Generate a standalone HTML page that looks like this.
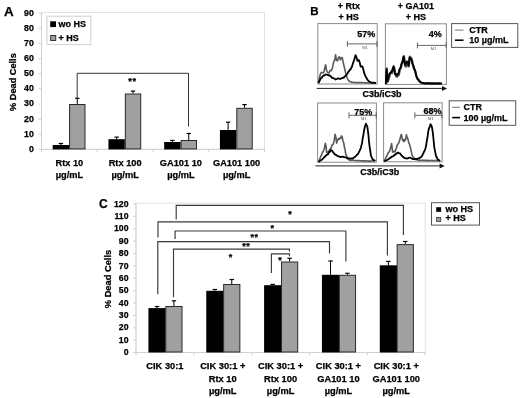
<!DOCTYPE html>
<html><head><meta charset="utf-8"><style>
html,body{margin:0;padding:0;background:#fff;}
body{width:520px;height:398px;overflow:hidden;}
svg{display:block;font-family:"Liberation Sans", sans-serif;will-change:transform;filter:blur(0.35px);}
</style></head><body>
<svg width="520" height="398" viewBox="0 0 520 398">
<rect width="520" height="398" fill="#fff"/>
<text x="4.0" y="16.2" font-size="13.4" text-anchor="start" fill="#000" stroke="#000" stroke-width="0.25" font-weight="bold" >A</text>
<rect x="41.5" y="12.5" width="223.0" height="136.9" fill="none" stroke="#e2e2e2" stroke-width="1"/>
<line x1="41.5" y1="12.5" x2="41.5" y2="149.4" stroke="#d2d2d2" stroke-width="1"/>
<line x1="41.5" y1="149.4" x2="264.5" y2="149.4" stroke="#d2d2d2" stroke-width="1"/>
<line x1="38.5" y1="149.40" x2="41.5" y2="149.40" stroke="#d2d2d2" stroke-width="1"/>
<text x="33.8" y="151.85" font-size="8.8" text-anchor="end" fill="#000" stroke="#000" stroke-width="0.25" font-weight="bold" >0</text>
<line x1="38.5" y1="134.27" x2="41.5" y2="134.27" stroke="#d2d2d2" stroke-width="1"/>
<text x="33.8" y="136.72" font-size="8.8" text-anchor="end" fill="#000" stroke="#000" stroke-width="0.25" font-weight="bold" >10</text>
<line x1="38.5" y1="119.14" x2="41.5" y2="119.14" stroke="#d2d2d2" stroke-width="1"/>
<text x="33.8" y="121.59" font-size="8.8" text-anchor="end" fill="#000" stroke="#000" stroke-width="0.25" font-weight="bold" >20</text>
<line x1="38.5" y1="104.01" x2="41.5" y2="104.01" stroke="#d2d2d2" stroke-width="1"/>
<text x="33.8" y="106.46" font-size="8.8" text-anchor="end" fill="#000" stroke="#000" stroke-width="0.25" font-weight="bold" >30</text>
<line x1="38.5" y1="88.88" x2="41.5" y2="88.88" stroke="#d2d2d2" stroke-width="1"/>
<text x="33.8" y="91.33" font-size="8.8" text-anchor="end" fill="#000" stroke="#000" stroke-width="0.25" font-weight="bold" >40</text>
<line x1="38.5" y1="73.75" x2="41.5" y2="73.75" stroke="#d2d2d2" stroke-width="1"/>
<text x="33.8" y="76.20" font-size="8.8" text-anchor="end" fill="#000" stroke="#000" stroke-width="0.25" font-weight="bold" >50</text>
<line x1="38.5" y1="58.62" x2="41.5" y2="58.62" stroke="#d2d2d2" stroke-width="1"/>
<text x="33.8" y="61.07" font-size="8.8" text-anchor="end" fill="#000" stroke="#000" stroke-width="0.25" font-weight="bold" >60</text>
<line x1="38.5" y1="43.49" x2="41.5" y2="43.49" stroke="#d2d2d2" stroke-width="1"/>
<text x="33.8" y="45.94" font-size="8.8" text-anchor="end" fill="#000" stroke="#000" stroke-width="0.25" font-weight="bold" >70</text>
<line x1="38.5" y1="28.36" x2="41.5" y2="28.36" stroke="#d2d2d2" stroke-width="1"/>
<text x="33.8" y="30.81" font-size="8.8" text-anchor="end" fill="#000" stroke="#000" stroke-width="0.25" font-weight="bold" >80</text>
<line x1="38.5" y1="13.23" x2="41.5" y2="13.23" stroke="#d2d2d2" stroke-width="1"/>
<text x="33.8" y="15.68" font-size="8.8" text-anchor="end" fill="#000" stroke="#000" stroke-width="0.25" font-weight="bold" >90</text>
<line x1="41.50" y1="149.4" x2="41.50" y2="152.4" stroke="#d2d2d2" stroke-width="1"/>
<line x1="97.25" y1="149.4" x2="97.25" y2="152.4" stroke="#d2d2d2" stroke-width="1"/>
<line x1="153.00" y1="149.4" x2="153.00" y2="152.4" stroke="#d2d2d2" stroke-width="1"/>
<line x1="208.75" y1="149.4" x2="208.75" y2="152.4" stroke="#d2d2d2" stroke-width="1"/>
<line x1="264.50" y1="149.4" x2="264.50" y2="152.4" stroke="#d2d2d2" stroke-width="1"/>
<text x="16.2" y="82.1" font-size="9.2" text-anchor="middle" fill="#000" stroke="#000" stroke-width="0.25" font-weight="bold" transform="rotate(-90 16.2 82.1)">% Dead Cells</text>
<line x1="60.88" y1="143.5" x2="60.88" y2="145.0" stroke="#000" stroke-width="1"/>
<line x1="58.67" y1="143.5" x2="63.08" y2="143.5" stroke="#000" stroke-width="1.2"/>
<rect x="52.68" y="145.0" width="16.4" height="4.40" fill="#000"/>
<line x1="77.28" y1="98.3" x2="77.28" y2="104.0" stroke="#000" stroke-width="1"/>
<line x1="75.08" y1="98.3" x2="79.48" y2="98.3" stroke="#000" stroke-width="1.2"/>
<rect x="69.58" y="104.5" width="15.399999999999999" height="44.40" fill="#a0a0a0" stroke="#2a2a2a" stroke-width="1"/>
<line x1="116.63" y1="137.1" x2="116.63" y2="139.2" stroke="#000" stroke-width="1"/>
<line x1="114.43" y1="137.1" x2="118.83" y2="137.1" stroke="#000" stroke-width="1.2"/>
<rect x="108.43" y="139.2" width="16.4" height="10.20" fill="#000"/>
<line x1="133.03" y1="91.1" x2="133.03" y2="93.5" stroke="#000" stroke-width="1"/>
<line x1="130.83" y1="91.1" x2="135.22" y2="91.1" stroke="#000" stroke-width="1.2"/>
<rect x="125.33" y="94.0" width="15.399999999999999" height="54.90" fill="#a0a0a0" stroke="#2a2a2a" stroke-width="1"/>
<line x1="172.37" y1="140.4" x2="172.37" y2="142.0" stroke="#000" stroke-width="1"/>
<line x1="170.17" y1="140.4" x2="174.57" y2="140.4" stroke="#000" stroke-width="1.2"/>
<rect x="164.17" y="142.0" width="16.4" height="7.40" fill="#000"/>
<line x1="188.77" y1="133.5" x2="188.77" y2="140.0" stroke="#000" stroke-width="1"/>
<line x1="186.57" y1="133.5" x2="190.97" y2="133.5" stroke="#000" stroke-width="1.2"/>
<rect x="181.07" y="140.5" width="15.399999999999999" height="8.40" fill="#a0a0a0" stroke="#2a2a2a" stroke-width="1"/>
<line x1="228.12" y1="122.2" x2="228.12" y2="130.0" stroke="#000" stroke-width="1"/>
<line x1="225.92" y1="122.2" x2="230.32" y2="122.2" stroke="#000" stroke-width="1.2"/>
<rect x="219.92" y="130.0" width="16.4" height="19.40" fill="#000"/>
<line x1="244.52" y1="104.6" x2="244.52" y2="107.8" stroke="#000" stroke-width="1"/>
<line x1="242.32" y1="104.6" x2="246.72" y2="104.6" stroke="#000" stroke-width="1.2"/>
<rect x="236.82" y="108.3" width="15.399999999999999" height="40.60" fill="#a0a0a0" stroke="#2a2a2a" stroke-width="1"/>
<path d="M77.2,98 V73.3 H188.5 V126.5" fill="none" stroke="#333" stroke-width="1"/>
<text x="132.5" y="84.2" font-size="9.2" text-anchor="middle" fill="#000" stroke="#000" stroke-width="0.25" font-weight="bold" letter-spacing="0.6">**</text>
<rect x="47" y="16.2" width="43.8" height="28.4" fill="#fff" stroke="#d0d0d0" stroke-width="1"/>
<rect x="50.2" y="21.3" width="5.8" height="5.8" fill="#000"/>
<rect x="50.7" y="35.5" width="5" height="5" fill="#a0a0a0" stroke="#333" stroke-width="1"/>
<text x="58.6" y="27.1" font-size="9" text-anchor="start" fill="#000" stroke="#000" stroke-width="0.25" font-weight="bold" >wo HS</text>
<text x="58.6" y="41.0" font-size="9" text-anchor="start" fill="#000" stroke="#000" stroke-width="0.25" font-weight="bold" >+ HS</text>
<text x="69.38" y="166.3" font-size="9.25" text-anchor="middle" fill="#000" stroke="#000" stroke-width="0.25" font-weight="bold" >Rtx 10</text>
<text x="69.38" y="178.4" font-size="9.25" text-anchor="middle" fill="#000" stroke="#000" stroke-width="0.25" font-weight="bold" >µg/mL</text>
<text x="125.12" y="166.3" font-size="9.25" text-anchor="middle" fill="#000" stroke="#000" stroke-width="0.25" font-weight="bold" >Rtx 100</text>
<text x="125.12" y="178.4" font-size="9.25" text-anchor="middle" fill="#000" stroke="#000" stroke-width="0.25" font-weight="bold" >µg/mL</text>
<text x="180.88" y="166.3" font-size="9.25" text-anchor="middle" fill="#000" stroke="#000" stroke-width="0.25" font-weight="bold" >GA101 10</text>
<text x="180.88" y="178.4" font-size="9.25" text-anchor="middle" fill="#000" stroke="#000" stroke-width="0.25" font-weight="bold" >µg/mL</text>
<text x="236.62" y="166.3" font-size="9.25" text-anchor="middle" fill="#000" stroke="#000" stroke-width="0.25" font-weight="bold" >GA101 100</text>
<text x="236.62" y="178.4" font-size="9.25" text-anchor="middle" fill="#000" stroke="#000" stroke-width="0.25" font-weight="bold" >µg/mL</text>
<text x="310.2" y="14.9" font-size="11.5" text-anchor="start" fill="#000" stroke="#000" stroke-width="0.25" font-weight="bold" >B</text>
<text x="348.8" y="8.5" font-size="9" text-anchor="middle" fill="#000" stroke="#000" stroke-width="0.25" font-weight="bold" >+ Rtx</text>
<text x="348.6" y="19.6" font-size="9" text-anchor="middle" fill="#000" stroke="#000" stroke-width="0.25" font-weight="bold" >+ HS</text>
<text x="415.8" y="8.5" font-size="9" text-anchor="middle" fill="#000" stroke="#000" stroke-width="0.25" font-weight="bold" >+ GA101</text>
<text x="416.0" y="19.6" font-size="9" text-anchor="middle" fill="#000" stroke="#000" stroke-width="0.25" font-weight="bold" >+ HS</text>
<rect x="317.8" y="23.6" width="59.40" height="60.40" fill="none" stroke="#8a8a8a" stroke-width="1"/>
<rect x="385.4" y="23.8" width="61.00" height="60.60" fill="none" stroke="#8a8a8a" stroke-width="1"/>
<rect x="317.6" y="103.0" width="58.80" height="59.20" fill="none" stroke="#8a8a8a" stroke-width="1"/>
<rect x="383.6" y="102.8" width="58.50" height="59.00" fill="none" stroke="#8a8a8a" stroke-width="1"/>
<line x1="316.7" y1="88.4" x2="443.0" y2="88.4" stroke="#222" stroke-width="1"/>
<path d="M442.0,85.9 L447.0,88.4 L442.0,90.9 Z" fill="#111"/>
<line x1="315.4" y1="165.9" x2="440.6" y2="165.9" stroke="#222" stroke-width="1"/>
<path d="M439.6,163.4 L444.6,165.9 L439.6,168.4 Z" fill="#111"/>
<text x="382.0" y="96.8" font-size="9" text-anchor="middle" fill="#000" stroke="#000" stroke-width="0.25" font-weight="bold" >C3b/iC3b</text>
<text x="379.8" y="174.6" font-size="9" text-anchor="middle" fill="#000" stroke="#000" stroke-width="0.25" font-weight="bold" >C3b/iC3b</text>
<path d="M347.4,40.9 V46.9 M347.4,43.9 H377.0 M377.0,40.9 V46.9" fill="none" stroke="#555" stroke-width="0.9"/>
<text x="365.0" y="48.5" font-size="4" text-anchor="middle" fill="#555">M1</text>
<path d="M417.4,42.4 V48.4 M417.4,45.4 H446.2 M446.2,42.4 V48.4" fill="none" stroke="#555" stroke-width="0.9"/>
<text x="433.6" y="50.0" font-size="4" text-anchor="middle" fill="#555">M1</text>
<path d="M349.0,112.3 V118.3 M349.0,115.3 H376.2 M376.2,112.3 V118.3" fill="none" stroke="#555" stroke-width="0.9"/>
<text x="363.7" y="119.89999999999999" font-size="4" text-anchor="middle" fill="#555">M1</text>
<path d="M414.8,112.3 V118.3 M414.8,115.3 H441.9 M441.9,112.3 V118.3" fill="none" stroke="#555" stroke-width="0.9"/>
<text x="430.9" y="119.89999999999999" font-size="4" text-anchor="middle" fill="#555">M1</text>
<text x="375.2" y="36.9" font-size="9" text-anchor="end" fill="#000" stroke="#000" stroke-width="0.25" font-weight="bold" >57%</text>
<text x="441.8" y="36.8" font-size="9" text-anchor="end" fill="#000" stroke="#000" stroke-width="0.25" font-weight="bold" >4%</text>
<text x="372.2" y="114.5" font-size="9" text-anchor="end" fill="#000" stroke="#000" stroke-width="0.25" font-weight="bold" >75%</text>
<text x="441.6" y="114.3" font-size="9" text-anchor="end" fill="#000" stroke="#000" stroke-width="0.25" font-weight="bold" >68%</text>
<path d="M318.5,83.0 L319.2,78.8 L320.0,75.5 L320.8,73.0 L321.5,72.4 L322.2,72.8 L323.0,72.9 L323.8,72.1 L324.5,69.2 L325.6,64.7 L326.5,70.3 L327.5,72.5 L328.2,72.7 L329.0,73.0 L329.8,70.8 L330.5,70.4 L331.3,70.7 L332.5,67.8 L333.1,64.3 L333.8,61.4 L334.8,59.9 L335.6,54.7 L336.5,60.5 L337.5,60.8 L338.5,57.4 L339.4,56.8 L340.3,59.9 L341.3,57.7 L342.2,57.5 L343.1,62.0 L344.0,65.9 L345.0,70.1 L346.0,74.4 L346.9,77.2 L348.0,79.8 L348.7,80.6 L349.4,81.4 L350.0,81.6 L350.7,81.8 L351.4,82.2 L352.0,82.3 L352.6,82.3 L353.2,82.5 L353.8,82.5 L354.5,82.3 L355.1,82.5 L355.7,82.5 L356.3,82.7 L356.9,82.7 L357.5,82.5 L358.2,82.8 L358.8,82.4 L359.4,82.6 L360.0,82.8 L360.6,82.5 L361.2,82.7 L361.9,82.5 L362.5,82.8 L363.1,82.8 L363.8,82.8 L364.4,82.9 L365.0,82.7 L365.6,82.9 L366.2,82.8 L366.9,82.8 L367.5,82.8 L368.1,83.0 L368.8,83.0 L369.4,82.8 L370.0,82.9 L370.6,82.7 L371.2,83.0 L371.8,83.0 L372.4,83.0 L373.0,83.0 L373.6,82.9 L374.2,83.0 L374.8,83.0 L375.4,82.8 L376.0,83.0" fill="none" stroke="#5a5a5a" stroke-width="1.6" stroke-linejoin="round"/>
<path d="M318.5,83.0 L319.5,81.0 L320.6,78.7 L321.2,77.9 L321.9,77.6 L322.5,76.3 L323.1,75.9 L323.8,75.5 L324.4,75.5 L325.2,74.5 L326.0,74.6 L326.8,74.7 L327.5,75.0 L328.1,75.2 L328.8,75.5 L329.4,75.2 L330.0,75.7 L330.8,76.3 L331.5,77.4 L332.3,77.9 L333.1,78.0 L333.7,78.3 L334.4,78.7 L335.0,79.0 L335.6,79.5 L336.4,79.2 L337.2,78.8 L338.0,78.3 L338.7,78.6 L339.3,78.7 L340.0,78.9 L340.7,78.8 L341.3,78.4 L342.0,78.1 L342.9,77.9 L343.8,77.7 L344.6,76.3 L345.5,76.0 L346.2,75.1 L346.9,74.3 L347.5,73.4 L348.2,72.1 L349.4,70.7 L350.0,69.4 L350.6,69.5 L351.2,67.7 L351.9,67.0 L352.8,63.7 L353.8,60.9 L354.7,58.0 L355.6,55.1 L356.5,57.4 L357.5,60.9 L358.1,60.2 L358.8,60.0 L359.7,62.4 L360.6,66.5 L361.5,66.5 L362.5,66.5 L363.4,69.8 L364.4,73.7 L365.3,76.0 L366.2,77.4 L366.9,78.8 L367.5,79.8 L368.1,80.4 L368.8,81.3 L369.4,81.5 L370.0,81.8 L370.6,82.2 L371.2,82.5 L371.9,82.7 L372.6,82.6 L373.3,82.6 L374.0,82.9 L374.6,82.9 L375.3,82.9 L376.0,83.0" fill="none" stroke="#000" stroke-width="1.8" stroke-linejoin="round"/>
<path d="M386.1,84.2 L386.8,68.3 L387.7,81.7 L388.3,80.2 L388.9,78.1 L389.6,75.7 L390.2,73.5 L390.8,72.9 L391.4,71.5 L392.1,73.2 L393.0,69.1 L393.9,67.2 L394.6,69.3 L395.2,73.0 L395.8,75.4 L396.4,76.5 L397.1,76.6 L397.7,76.0 L398.3,75.5 L398.9,74.7 L399.8,69.8 L400.8,68.0 L401.8,64.3 L402.7,60.8 L403.3,57.9 L403.9,56.2 L404.6,60.2 L405.2,66.2 L405.8,66.5 L406.4,63.2 L407.1,64.8 L407.7,64.4 L408.3,66.4 L408.9,66.0 L409.8,56.6 L410.6,57.6 L411.4,58.4 L412.1,60.3 L412.7,64.0 L413.6,67.8 L414.6,70.0 L415.5,71.8 L416.4,76.1 L417.3,78.7 L418.3,79.3 L419.5,81.4 L420.1,82.1 L420.8,82.5 L421.6,82.8 L422.3,83.0 L423.1,83.0 L423.8,83.5 L424.6,83.4 L425.2,83.7 L425.8,83.9 L426.5,83.5 L427.1,83.5 L427.7,83.9 L428.4,83.8 L429.0,83.4 L429.7,83.4 L430.3,83.5 L430.9,84.0 L431.5,83.9 L432.1,83.5 L432.8,83.9 L433.4,84.0 L434.0,83.8 L434.6,83.6 L435.2,83.7 L435.8,83.5 L436.5,83.4 L437.1,84.0 L437.7,83.8 L438.3,83.7 L438.9,84.0 L439.5,83.7 L440.2,84.0 L440.8,83.9 L441.4,83.5 L442.0,83.6" fill="none" stroke="#4a4a4a" stroke-width="2.2" stroke-linejoin="round"/>
<path d="M385.8,84.0 L386.5,69.3 L387.4,81.2 L388.0,79.1 L388.6,76.6 L389.2,74.5 L389.9,73.1 L390.5,73.4 L391.1,71.9 L391.8,71.4 L392.7,68.5 L393.6,66.1 L394.2,69.2 L394.9,73.9 L395.5,73.9 L396.1,74.6 L396.8,75.2 L397.4,73.9 L398.0,73.9 L398.6,72.9 L399.5,69.3 L400.5,67.8 L401.5,63.6 L402.4,62.1 L403.0,59.8 L403.6,56.7 L404.2,60.3 L404.9,64.7 L405.5,63.9 L406.1,63.4 L406.8,61.4 L407.4,61.7 L408.0,63.2 L408.6,65.5 L409.5,57.7 L410.3,58.1 L411.1,59.2 L411.8,61.4 L412.4,63.6 L413.3,65.2 L414.2,68.0 L415.2,71.3 L416.1,75.2 L417.0,77.8 L418.0,79.5 L419.2,80.9 L419.9,81.4 L420.5,82.1 L421.2,82.4 L422.0,82.8 L422.8,82.9 L423.5,82.9 L424.2,83.2 L424.9,83.3 L425.5,83.3 L426.2,83.1 L426.8,83.1 L427.4,83.2 L428.1,83.2 L428.7,83.2 L429.4,83.2 L430.0,83.4 L430.6,83.4 L431.2,83.5 L431.8,83.2 L432.5,83.4 L433.1,83.4 L433.7,83.2 L434.3,83.5 L434.9,83.5 L435.5,83.3 L436.2,83.5 L436.8,83.3 L437.4,83.3 L438.0,83.5 L438.6,83.4 L439.2,83.2 L439.9,83.3 L440.5,83.3 L441.1,83.3 L441.7,83.3" fill="none" stroke="#000" stroke-width="1.8" stroke-linejoin="round"/>
<path d="M318.5,161.9 L319.2,160.2 L320.0,158.6 L320.7,156.1 L321.3,155.5 L321.9,154.1 L322.6,152.1 L323.2,151.5 L324.3,148.8 L325.3,143.2 L326.0,145.9 L326.6,152.2 L327.3,152.0 L328.1,152.6 L328.8,151.0 L329.4,150.4 L330.1,148.8 L330.7,149.8 L331.3,147.5 L331.9,145.4 L332.6,144.6 L333.2,144.4 L334.2,140.4 L335.1,134.2 L335.9,137.3 L336.6,143.1 L337.5,140.2 L338.3,138.7 L339.5,139.3 L340.1,137.8 L340.8,138.2 L341.4,135.9 L342.1,136.5 L342.9,140.7 L343.7,142.9 L344.5,147.8 L345.1,149.6 L345.8,154.8 L346.4,155.3 L347.1,157.8 L347.7,159.1 L348.3,159.3 L348.9,159.7 L349.6,160.2 L350.2,160.3 L350.8,160.2 L351.4,160.4 L352.0,160.3 L352.6,160.3 L353.3,160.4 L353.9,160.4 L354.5,160.5 L355.1,160.5 L355.7,160.6 L356.3,160.8 L356.9,160.6 L357.6,160.7 L358.2,160.6 L358.8,160.7 L359.4,160.6 L360.0,160.8 L360.6,160.7 L361.2,161.0 L361.8,160.9 L362.4,160.8 L363.0,160.9 L363.6,161.1 L364.2,160.7 L364.8,161.1 L365.4,160.9 L366.0,160.9 L366.6,161.1 L367.2,160.9 L367.8,161.0 L368.4,161.1 L369.0,161.2 L369.6,160.9 L370.2,161.2 L370.8,161.1 L371.4,161.1 L372.0,161.0 L372.6,161.0 L373.2,160.8 L373.8,160.9 L374.4,160.9 L375.0,161.0" fill="none" stroke="#5a5a5a" stroke-width="1.6" stroke-linejoin="round"/>
<path d="M318.5,162.0 L319.2,161.5 L319.8,160.9 L320.5,160.4 L321.2,160.1 L321.8,159.7 L322.5,159.1 L323.2,158.3 L323.8,157.6 L324.5,157.0 L325.1,156.5 L325.7,155.7 L326.3,155.3 L326.9,154.5 L327.6,154.5 L328.2,154.0 L328.8,152.9 L329.4,151.7 L330.1,151.8 L330.7,150.1 L331.3,150.6 L332.0,150.6 L332.6,151.5 L333.2,152.4 L333.9,153.2 L334.5,153.7 L335.1,154.7 L335.9,154.8 L336.7,155.5 L337.5,155.8 L338.1,156.3 L338.8,156.3 L339.5,156.6 L340.1,157.1 L340.9,156.8 L341.7,156.8 L342.5,156.6 L343.2,156.9 L343.9,157.0 L344.5,157.2 L345.2,157.4 L345.8,157.4 L346.4,157.6 L347.1,158.2 L347.7,158.0 L348.3,158.6 L348.9,158.5 L349.6,158.3 L350.2,158.6 L350.8,158.6 L351.4,158.5 L352.1,158.6 L352.7,158.6 L353.3,157.8 L353.9,157.6 L354.5,157.1 L355.2,156.7 L355.8,156.1 L356.5,155.6 L357.2,154.6 L358.0,154.1 L359.0,151.9 L359.6,150.9 L360.3,149.2 L360.9,147.8 L361.5,145.1 L362.1,142.7 L362.8,137.9 L363.4,134.8 L364.0,130.8 L364.7,127.4 L365.9,123.7 L366.5,125.0 L367.2,126.0 L368.4,134.5 L369.0,141.6 L369.7,147.1 L370.9,155.3 L371.5,156.8 L372.2,158.3 L372.8,159.5 L373.4,160.0 L374.1,160.2 L374.7,160.5 L375.3,160.9" fill="none" stroke="#000" stroke-width="1.8" stroke-linejoin="round"/>
<path d="M384.3,161.0 L384.9,159.7 L385.6,158.0 L386.2,157.0 L386.9,156.0 L387.5,154.3 L388.1,153.1 L388.8,152.2 L389.4,151.5 L390.5,148.2 L391.6,143.5 L392.6,152.1 L393.2,151.2 L393.9,151.5 L394.5,151.9 L395.1,151.7 L395.7,149.5 L396.3,148.9 L396.9,145.8 L397.6,144.5 L398.2,143.7 L398.8,142.8 L399.5,140.7 L400.1,138.6 L400.8,135.6 L401.4,134.4 L402.0,137.3 L402.6,140.4 L403.2,139.4 L403.9,141.7 L404.5,139.6 L405.1,140.5 L405.8,138.9 L406.4,134.7 L407.1,137.0 L407.9,139.0 L408.7,142.6 L409.5,144.2 L410.4,147.5 L411.2,151.2 L412.0,154.9 L412.9,156.4 L413.7,157.6 L414.4,158.2 L415.2,159.4 L415.8,159.7 L416.4,159.5 L417.0,159.9 L417.6,159.9 L418.2,160.2 L418.8,160.2 L419.4,160.1 L420.0,160.5 L420.6,160.4 L421.2,160.2 L421.8,160.2 L422.4,160.4 L423.0,160.4 L423.6,160.3 L424.2,160.3 L424.8,160.4 L425.5,160.4 L426.1,160.6 L426.7,160.2 L427.3,160.6 L427.9,160.6 L428.5,160.3 L429.1,160.7 L429.7,160.6 L430.3,160.7 L430.9,160.4 L431.5,160.5 L432.1,160.5 L432.7,160.8 L433.3,160.6 L433.9,160.5 L434.5,160.6 L435.2,160.5 L435.8,160.4 L436.4,160.4 L437.0,160.8 L437.6,160.5 L438.2,160.8 L438.8,160.5 L439.4,160.6 L440.0,160.6" fill="none" stroke="#5a5a5a" stroke-width="1.6" stroke-linejoin="round"/>
<path d="M384.3,161.5 L384.9,161.1 L385.6,160.7 L386.2,160.5 L386.9,160.1 L387.5,159.7 L388.1,159.3 L388.8,159.0 L389.4,158.6 L390.0,158.0 L390.7,157.7 L391.3,156.9 L391.9,156.9 L392.6,156.3 L393.2,156.1 L393.8,155.7 L394.5,155.0 L395.1,154.3 L395.7,154.6 L396.4,153.4 L397.0,153.3 L397.6,152.7 L398.2,152.6 L398.9,153.1 L399.5,153.4 L400.1,153.4 L400.8,154.6 L401.4,155.2 L402.0,156.0 L402.6,156.5 L403.3,157.0 L403.9,157.6 L404.5,157.8 L405.1,158.3 L405.8,158.3 L406.4,158.4 L407.0,158.5 L407.7,158.4 L408.3,158.1 L408.9,157.8 L409.6,157.7 L410.2,157.6 L410.8,158.0 L411.4,158.2 L412.1,158.6 L412.7,159.0 L413.3,159.1 L414.0,159.2 L414.6,159.1 L415.2,159.0 L415.9,159.0 L416.5,159.1 L417.1,158.9 L417.8,158.7 L418.4,158.4 L419.0,158.4 L419.6,158.2 L420.2,157.3 L420.9,157.1 L421.5,156.7 L422.1,155.8 L422.8,154.3 L423.4,153.2 L424.0,151.7 L424.7,150.4 L425.3,149.0 L426.1,145.6 L426.8,141.0 L427.6,136.6 L428.4,130.7 L429.0,128.2 L429.7,126.9 L430.5,124.2 L431.1,125.0 L431.8,126.7 L432.5,130.1 L433.1,135.2 L434.3,147.4 L435.1,151.4 L435.9,155.6 L436.5,157.0 L437.2,158.1 L437.8,159.5 L438.4,159.9 L439.1,160.3 L439.7,160.7 L440.3,160.9" fill="none" stroke="#000" stroke-width="1.8" stroke-linejoin="round"/>
<rect x="451.6" y="23.6" width="66.20" height="23.80" fill="#fff" stroke="#555" stroke-width="1"/>
<line x1="455" y1="30.1" x2="463.5" y2="30.1" stroke="#888" stroke-width="1.2"/>
<line x1="455" y1="40.2" x2="463.5" y2="40.2" stroke="#000" stroke-width="1.6"/>
<text x="469.2" y="32.7" font-size="9" text-anchor="start" fill="#000" stroke="#000" stroke-width="0.25" font-weight="bold" >CTR</text>
<text x="469.2" y="43.2" font-size="9" text-anchor="start" fill="#000" stroke="#000" stroke-width="0.25" font-weight="bold" >10 µg/mL</text>
<rect x="449.2" y="100.8" width="66.50" height="24.50" fill="#fff" stroke="#555" stroke-width="1"/>
<line x1="452.2" y1="107.3" x2="460.1" y2="107.3" stroke="#888" stroke-width="1.2"/>
<line x1="452.2" y1="117.6" x2="460.1" y2="117.6" stroke="#000" stroke-width="1.6"/>
<text x="463.4" y="110.1" font-size="9" text-anchor="start" fill="#000" stroke="#000" stroke-width="0.25" font-weight="bold" >CTR</text>
<text x="463.4" y="120.5" font-size="9" text-anchor="start" fill="#000" stroke="#000" stroke-width="0.25" font-weight="bold" >100 µg/mL</text>
<text x="99.0" y="208.2" font-size="12" text-anchor="start" fill="#000" stroke="#000" stroke-width="0.25" font-weight="bold" >C</text>
<rect x="136.0" y="203.2" width="289.20" height="149.30" fill="none" stroke="#e2e2e2" stroke-width="1"/>
<line x1="136.0" y1="203.2" x2="136.0" y2="352.5" stroke="#d2d2d2" stroke-width="1"/>
<line x1="136.0" y1="352.5" x2="425.2" y2="352.5" stroke="#d2d2d2" stroke-width="1"/>
<line x1="133.0" y1="352.50" x2="136.0" y2="352.50" stroke="#d2d2d2" stroke-width="1"/>
<text x="128.5" y="355.20" font-size="8.7" text-anchor="end" fill="#000" stroke="#000" stroke-width="0.25" font-weight="bold" >0</text>
<line x1="133.0" y1="340.12" x2="136.0" y2="340.12" stroke="#d2d2d2" stroke-width="1"/>
<text x="128.5" y="342.82" font-size="8.7" text-anchor="end" fill="#000" stroke="#000" stroke-width="0.25" font-weight="bold" >10</text>
<line x1="133.0" y1="327.75" x2="136.0" y2="327.75" stroke="#d2d2d2" stroke-width="1"/>
<text x="128.5" y="330.45" font-size="8.7" text-anchor="end" fill="#000" stroke="#000" stroke-width="0.25" font-weight="bold" >20</text>
<line x1="133.0" y1="315.38" x2="136.0" y2="315.38" stroke="#d2d2d2" stroke-width="1"/>
<text x="128.5" y="318.07" font-size="8.7" text-anchor="end" fill="#000" stroke="#000" stroke-width="0.25" font-weight="bold" >30</text>
<line x1="133.0" y1="303.00" x2="136.0" y2="303.00" stroke="#d2d2d2" stroke-width="1"/>
<text x="128.5" y="305.70" font-size="8.7" text-anchor="end" fill="#000" stroke="#000" stroke-width="0.25" font-weight="bold" >40</text>
<line x1="133.0" y1="290.62" x2="136.0" y2="290.62" stroke="#d2d2d2" stroke-width="1"/>
<text x="128.5" y="293.32" font-size="8.7" text-anchor="end" fill="#000" stroke="#000" stroke-width="0.25" font-weight="bold" >50</text>
<line x1="133.0" y1="278.25" x2="136.0" y2="278.25" stroke="#d2d2d2" stroke-width="1"/>
<text x="128.5" y="280.95" font-size="8.7" text-anchor="end" fill="#000" stroke="#000" stroke-width="0.25" font-weight="bold" >60</text>
<line x1="133.0" y1="265.88" x2="136.0" y2="265.88" stroke="#d2d2d2" stroke-width="1"/>
<text x="128.5" y="268.57" font-size="8.7" text-anchor="end" fill="#000" stroke="#000" stroke-width="0.25" font-weight="bold" >70</text>
<line x1="133.0" y1="253.50" x2="136.0" y2="253.50" stroke="#d2d2d2" stroke-width="1"/>
<text x="128.5" y="256.20" font-size="8.7" text-anchor="end" fill="#000" stroke="#000" stroke-width="0.25" font-weight="bold" >80</text>
<line x1="133.0" y1="241.12" x2="136.0" y2="241.12" stroke="#d2d2d2" stroke-width="1"/>
<text x="128.5" y="243.82" font-size="8.7" text-anchor="end" fill="#000" stroke="#000" stroke-width="0.25" font-weight="bold" >90</text>
<line x1="133.0" y1="228.75" x2="136.0" y2="228.75" stroke="#d2d2d2" stroke-width="1"/>
<text x="128.5" y="231.45" font-size="8.7" text-anchor="end" fill="#000" stroke="#000" stroke-width="0.25" font-weight="bold" >100</text>
<line x1="133.0" y1="216.38" x2="136.0" y2="216.38" stroke="#d2d2d2" stroke-width="1"/>
<text x="128.5" y="219.07" font-size="8.7" text-anchor="end" fill="#000" stroke="#000" stroke-width="0.25" font-weight="bold" >110</text>
<line x1="133.0" y1="204.00" x2="136.0" y2="204.00" stroke="#d2d2d2" stroke-width="1"/>
<text x="128.5" y="206.70" font-size="8.7" text-anchor="end" fill="#000" stroke="#000" stroke-width="0.25" font-weight="bold" >120</text>
<line x1="136.00" y1="352.5" x2="136.00" y2="355.5" stroke="#d2d2d2" stroke-width="1"/>
<line x1="193.84" y1="352.5" x2="193.84" y2="355.5" stroke="#d2d2d2" stroke-width="1"/>
<line x1="251.68" y1="352.5" x2="251.68" y2="355.5" stroke="#d2d2d2" stroke-width="1"/>
<line x1="309.52" y1="352.5" x2="309.52" y2="355.5" stroke="#d2d2d2" stroke-width="1"/>
<line x1="367.36" y1="352.5" x2="367.36" y2="355.5" stroke="#d2d2d2" stroke-width="1"/>
<line x1="425.20" y1="352.5" x2="425.20" y2="355.5" stroke="#d2d2d2" stroke-width="1"/>
<text x="111.3" y="279.0" font-size="9.3" text-anchor="middle" fill="#000" stroke="#000" stroke-width="0.25" font-weight="bold" transform="rotate(-90 111.3 279.0)">% Dead Cells</text>
<line x1="157.02" y1="306.5" x2="157.02" y2="308.1" stroke="#000" stroke-width="1"/>
<line x1="154.82" y1="306.5" x2="159.22" y2="306.5" stroke="#000" stroke-width="1.2"/>
<rect x="148.42" y="308.1" width="17.2" height="44.40" fill="#000"/>
<line x1="173.92" y1="300.8" x2="173.92" y2="306.0" stroke="#000" stroke-width="1"/>
<line x1="171.72" y1="300.8" x2="176.12" y2="300.8" stroke="#000" stroke-width="1.2"/>
<rect x="165.82" y="306.5" width="16.2" height="45.50" fill="#a0a0a0" stroke="#2a2a2a" stroke-width="1"/>
<line x1="214.86" y1="289.5" x2="214.86" y2="290.8" stroke="#000" stroke-width="1"/>
<line x1="212.66" y1="289.5" x2="217.06" y2="289.5" stroke="#000" stroke-width="1.2"/>
<rect x="206.26" y="290.8" width="17.2" height="61.70" fill="#000"/>
<line x1="231.76" y1="279.5" x2="231.76" y2="284.0" stroke="#000" stroke-width="1"/>
<line x1="229.56" y1="279.5" x2="233.96" y2="279.5" stroke="#000" stroke-width="1.2"/>
<rect x="223.66" y="284.5" width="16.2" height="67.50" fill="#a0a0a0" stroke="#2a2a2a" stroke-width="1"/>
<line x1="272.70" y1="284.4" x2="272.70" y2="285.2" stroke="#000" stroke-width="1"/>
<line x1="270.50" y1="284.4" x2="274.90" y2="284.4" stroke="#000" stroke-width="1.2"/>
<rect x="264.10" y="285.2" width="17.2" height="67.30" fill="#000"/>
<line x1="289.60" y1="258.3" x2="289.60" y2="261.5" stroke="#000" stroke-width="1"/>
<line x1="287.40" y1="258.3" x2="291.80" y2="258.3" stroke="#000" stroke-width="1.2"/>
<rect x="281.50" y="262.0" width="16.2" height="90.00" fill="#a0a0a0" stroke="#2a2a2a" stroke-width="1"/>
<line x1="330.54" y1="261.0" x2="330.54" y2="274.8" stroke="#000" stroke-width="1"/>
<line x1="328.34" y1="261.0" x2="332.74" y2="261.0" stroke="#000" stroke-width="1.2"/>
<rect x="321.94" y="274.8" width="17.2" height="77.70" fill="#000"/>
<line x1="347.44" y1="273.3" x2="347.44" y2="274.8" stroke="#000" stroke-width="1"/>
<line x1="345.24" y1="273.3" x2="349.64" y2="273.3" stroke="#000" stroke-width="1.2"/>
<rect x="339.34" y="275.3" width="16.2" height="76.70" fill="#a0a0a0" stroke="#2a2a2a" stroke-width="1"/>
<line x1="388.38" y1="261.4" x2="388.38" y2="265.3" stroke="#000" stroke-width="1"/>
<line x1="386.18" y1="261.4" x2="390.58" y2="261.4" stroke="#000" stroke-width="1.2"/>
<rect x="379.78" y="265.3" width="17.2" height="87.20" fill="#000"/>
<line x1="405.28" y1="241.5" x2="405.28" y2="244.1" stroke="#000" stroke-width="1"/>
<line x1="403.08" y1="241.5" x2="407.48" y2="241.5" stroke="#000" stroke-width="1.2"/>
<rect x="397.18" y="244.6" width="16.2" height="107.40" fill="#a0a0a0" stroke="#2a2a2a" stroke-width="1"/>
<path d="M176.2,219.5 V205.3 H403.4 V235.1" fill="none" stroke="#3a3a3a" stroke-width="1.15"/>
<path d="M158.0,237.5 V221.8 H387.4 V255.5" fill="none" stroke="#3a3a3a" stroke-width="1.15"/>
<path d="M175.1,239 V231 H345.9 V261.4" fill="none" stroke="#3a3a3a" stroke-width="1.15"/>
<path d="M157.8,294.2 V241.6 H329.5 V253.5" fill="none" stroke="#3a3a3a" stroke-width="1.15"/>
<path d="M173.5,297.3 V249.1 H289.4 V251.6" fill="none" stroke="#3a3a3a" stroke-width="1.15"/>
<path d="M271.4,273 V253.8 H289.4 V256.3" fill="none" stroke="#3a3a3a" stroke-width="1.15"/>
<text x="290" y="216.6" font-size="9" text-anchor="middle" fill="#000" stroke="#000" stroke-width="0.25" font-weight="bold" >*</text>
<text x="272.2" y="231.2" font-size="9" text-anchor="middle" fill="#000" stroke="#000" stroke-width="0.25" font-weight="bold" >*</text>
<text x="254.5" y="240.4" font-size="9" text-anchor="middle" fill="#000" stroke="#000" stroke-width="0.25" font-weight="bold" letter-spacing="0.5">**</text>
<text x="246.3" y="249.4" font-size="9" text-anchor="middle" fill="#000" stroke="#000" stroke-width="0.25" font-weight="bold" letter-spacing="0.5">**</text>
<text x="230.4" y="259.5" font-size="9" text-anchor="middle" fill="#000" stroke="#000" stroke-width="0.25" font-weight="bold" >*</text>
<text x="280.1" y="262.5" font-size="9" text-anchor="middle" fill="#000" stroke="#000" stroke-width="0.25" font-weight="bold" >*</text>
<rect x="431.5" y="202.7" width="48" height="22.4" fill="#fff" stroke="#555" stroke-width="1"/>
<rect x="436.2" y="207.2" width="4.9" height="4.6" fill="#000"/>
<rect x="436.6" y="217.4" width="4.2" height="4" fill="#a0a0a0" stroke="#333" stroke-width="0.8"/>
<text x="445.4" y="211.6" font-size="9.1" text-anchor="start" fill="#000" stroke="#000" stroke-width="0.25" font-weight="bold" >wo HS</text>
<text x="445.4" y="221.4" font-size="9.1" text-anchor="start" fill="#000" stroke="#000" stroke-width="0.25" font-weight="bold" >+ HS</text>
<text x="164.92" y="369.3" font-size="9.3" text-anchor="middle" fill="#000" stroke="#000" stroke-width="0.25" font-weight="bold" >CIK 30:1</text>
<text x="222.76" y="369.3" font-size="9.3" text-anchor="middle" fill="#000" stroke="#000" stroke-width="0.25" font-weight="bold" >CIK 30:1 +</text>
<text x="222.76" y="381.5" font-size="9.3" text-anchor="middle" fill="#000" stroke="#000" stroke-width="0.25" font-weight="bold" >Rtx 10</text>
<text x="222.76" y="393.7" font-size="9.3" text-anchor="middle" fill="#000" stroke="#000" stroke-width="0.25" font-weight="bold" >µg/mL</text>
<text x="280.60" y="369.3" font-size="9.3" text-anchor="middle" fill="#000" stroke="#000" stroke-width="0.25" font-weight="bold" >CIK 30:1 +</text>
<text x="280.60" y="381.5" font-size="9.3" text-anchor="middle" fill="#000" stroke="#000" stroke-width="0.25" font-weight="bold" >Rtx 100</text>
<text x="280.60" y="393.7" font-size="9.3" text-anchor="middle" fill="#000" stroke="#000" stroke-width="0.25" font-weight="bold" >µg/mL</text>
<text x="338.44" y="369.3" font-size="9.3" text-anchor="middle" fill="#000" stroke="#000" stroke-width="0.25" font-weight="bold" >CIK 30:1 +</text>
<text x="338.44" y="381.5" font-size="9.3" text-anchor="middle" fill="#000" stroke="#000" stroke-width="0.25" font-weight="bold" >GA101 10</text>
<text x="338.44" y="393.7" font-size="9.3" text-anchor="middle" fill="#000" stroke="#000" stroke-width="0.25" font-weight="bold" >µg/mL</text>
<text x="396.28" y="369.3" font-size="9.3" text-anchor="middle" fill="#000" stroke="#000" stroke-width="0.25" font-weight="bold" >CIK 30:1 +</text>
<text x="396.28" y="381.5" font-size="9.3" text-anchor="middle" fill="#000" stroke="#000" stroke-width="0.25" font-weight="bold" >GA101 100</text>
<text x="396.28" y="393.7" font-size="9.3" text-anchor="middle" fill="#000" stroke="#000" stroke-width="0.25" font-weight="bold" >µg/mL</text>
</svg>
</body></html>
